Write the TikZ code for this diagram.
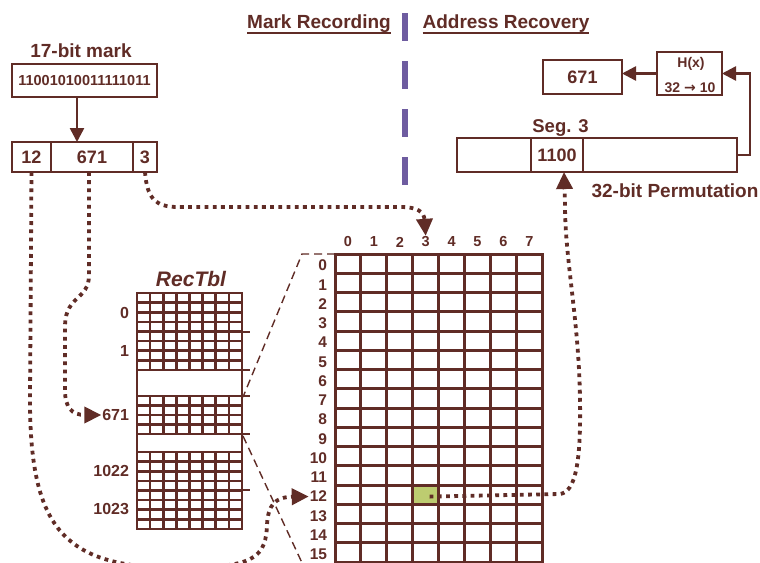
\documentclass[tikz,border=0pt]{standalone}
\usepackage{fontspec}
\setmainfont{Liberation Sans}
\newfontfamily\djv{DejaVu Sans}
\usetikzlibrary{arrows.meta}
\definecolor{br}{RGB}{96,44,38}
\definecolor{pu}{RGB}{110,92,160}
\definecolor{gc}{RGB}{189,204,112}
\newcommand\myfs[1]{\fontsize{#1}{#1}\selectfont\bfseries}
\begin{document}
\begin{tikzpicture}[x=1pt,y=-1pt,
  box/.style={draw=br,line width=2.6pt,inner sep=0pt,outer sep=0pt,text=br,font=\myfs{18}},
  lbl/.style={text=br,inner sep=1pt,outer sep=0pt},
  solidarr/.style={draw=br,line width=2.5pt,-{Triangle[length=14pt,width=14pt]}},
  dotarr/.style={draw=br,line width=3.8pt,dash pattern=on 3.8pt off 4.4pt,-{Triangle[length=17pt,width=16pt]}},
  thindash/.style={draw=br,line width=1.4pt,dash pattern=on 8pt off 5pt},
  gridl/.style={draw=br,line width=3pt,line cap=rect},
  rtl/.style={draw=br,line width=2.6pt,line cap=rect},
  tickl/.style={draw=br,line width=1.6pt}
]
\useasboundingbox (0,0) rectangle (760,562);
\clip (0,0) rectangle (760,562);
\fill[white] (0,0) rectangle (760,562);

% headers
\node[lbl,font=\myfs{19},anchor=base,inner sep=0pt] (hdrL) at (319,28) {Mark Recording};
\draw[br,line width=2.5pt] ([yshift=-1pt]hdrL.south west) -- ([yshift=-1pt]hdrL.south east);
\node[lbl,font=\myfs{19},anchor=base,inner sep=0pt] (hdrR) at (506,28) {Address Recovery};
\draw[br,line width=2.5pt] ([yshift=-1pt]hdrR.south west) -- ([yshift=-1pt]hdrR.south east);
\coordinate (divtop) at (405,13);
\coordinate (divbot) at (405,190);
\draw[pu,line width=6pt,dash pattern=on 28pt off 20pt] (divtop) -- (divbot);

% left: mark
\node[lbl,font=\myfs{19},anchor=base] (marktitle) at (81,57) {17-bit mark};
\node[box,font=\myfs{14.5},minimum width=145pt,minimum height=33pt] (markbits) at (84.5,80.5) {11001010011111011};
\node[box,minimum width=39pt,minimum height=30pt] (c12) at (31.5,157) {12};
\node[box,minimum width=82pt,minimum height=30pt] (cpart) at (92,157) {671};
\node[box,minimum width=24pt,minimum height=30pt] (c3) at (145,157) {3};
\draw[solidarr] ([xshift=-7.5pt]markbits.south) -- ([xshift=-7.5pt]markbits.south |- cpart.north);

% right: recovery
\node[box,minimum width=79pt,minimum height=34pt] (r671) at (582.5,77) {671};
\node[box,minimum width=65pt,minimum height=43pt] (hx) at (689.5,73.5) {};
\node[lbl,font=\myfs{14},anchor=base] (hxa) at (691,67) {H(x)};
\node[lbl,font=\myfs{14},anchor=base] (hxb) at (690,92) {32 {\djv\bfseries →} 10};
\node[box,minimum width=280pt,minimum height=34pt] (perm) at (597,155) {};
\node[box,minimum width=52pt,minimum height=34pt] (seg) at (557,155) {1100};
\node[lbl,font=\myfs{18.5},anchor=base] (segt) at (560.5,132) {Seg. 3};
\node[lbl,font=\myfs{19},anchor=base] (permt) at (675,197) {32-bit Permutation};
\draw[solidarr] (hx.west) -- (r671.east |- hx.west);
\draw[solidarr] (perm.east) -- ++(13,0) |- (hx.east);

% big grid
\node[fill=gc,minimum width=25.9pt,minimum height=19.25pt,inner sep=0pt,outer sep=0pt] (hit) at (425.65,494.6) {};
\foreach \i in {0,...,8} \draw[gridl] (335+\i*25.9,254) -- (335+\i*25.9,580);
\foreach \j in {0,...,16} \draw[gridl] (335,254+\j*19.25) -- (542.2,254+\j*19.25);
\foreach \i in {0,...,7} \node[lbl,font=\myfs{14.5}] (col\i) at (348+\i*25.9,242) {\i};
\foreach \j in {0,...,15} \node[lbl,font=\myfs{15.5},anchor=east] (row\j) at (328,254+\j*19.25+11.5) {\j};

% RecTbl
\node[lbl,font=\myfs{21}\itshape,anchor=base] (rtitle) at (191,286) {RecTbl};
\foreach \i in {0,...,8} \draw[rtl] (137+\i*13.125,293) -- (137+\i*13.125,370);
\foreach \j in {0,...,8} \draw[rtl] (137,293+\j*9.625) -- (242,293+\j*9.625);
\foreach \i in {0,...,8} \draw[rtl] (137+\i*13.125,396) -- (137+\i*13.125,434);
\foreach \j in {0,...,4} \draw[rtl] (137,396+\j*9.5) -- (242,396+\j*9.5);
\foreach \i in {0,...,8} \draw[rtl] (137+\i*13.125,452) -- (137+\i*13.125,529);
\foreach \j in {0,...,8} \draw[rtl] (137,452+\j*9.625) -- (242,452+\j*9.625);
\draw[rtl] (137,370) rectangle (242,396);
\draw[rtl] (137,434) rectangle (242,452);
\foreach \y in {332,370,396,434,490} \draw[tickl] (242,\y) -- (250,\y);
\node[lbl,font=\myfs{16},anchor=east] (rl0) at (130,313) {0};
\node[lbl,font=\myfs{16},anchor=east] (rl1) at (130,351) {1};
\node[lbl,font=\myfs{16},anchor=east] (rl671) at (130,415) {671};
\node[lbl,font=\myfs{16},anchor=east] (rl1022) at (130,471) {1022};
\node[lbl,font=\myfs{16},anchor=east] (rl1023) at (130,509) {1023};

% zoom dashed lines
\coordinate (gtl) at (335,254);
\coordinate (zk) at (302,254);
\coordinate (gapAb) at (243,397);
\coordinate (gapBt) at (243,436);
\coordinate (zend) at (310,580);
\draw[thindash] (gtl) -- (zk) -- (gapAb);
\draw[thindash] (gapBt) -- (zend);

% dotted connectors
\draw[dotarr] (c12.south) -- (30,400) .. controls (30,520) and (60,560) .. (150,567) -- (200,567) .. controls (255,566) and (266,555) .. (267,525) .. controls (268,505) and (275,497) .. (row12.west);
\draw[dotarr] ([xshift=-3pt]cpart.south) -- (89,275) .. controls (89,300) and (66,295) .. (65,325) -- (65,390) .. controls (65,408) and (72,415) .. (rl671.west);
\draw[dotarr] (c3.south) .. controls (147,198) and (155,207) .. (178,207) -- (400,207) .. controls (418,207) and (424,212) .. (col3.north);
\draw[dotarr] ([xshift=4pt,yshift=-2pt]hit.center) -- (560,494) .. controls (576,492) and (581,460) .. (580,400) .. controls (579,320) and (565,260) .. (565,205) -- ([xshift=7pt]seg.south);
\end{tikzpicture}
\end{document}
